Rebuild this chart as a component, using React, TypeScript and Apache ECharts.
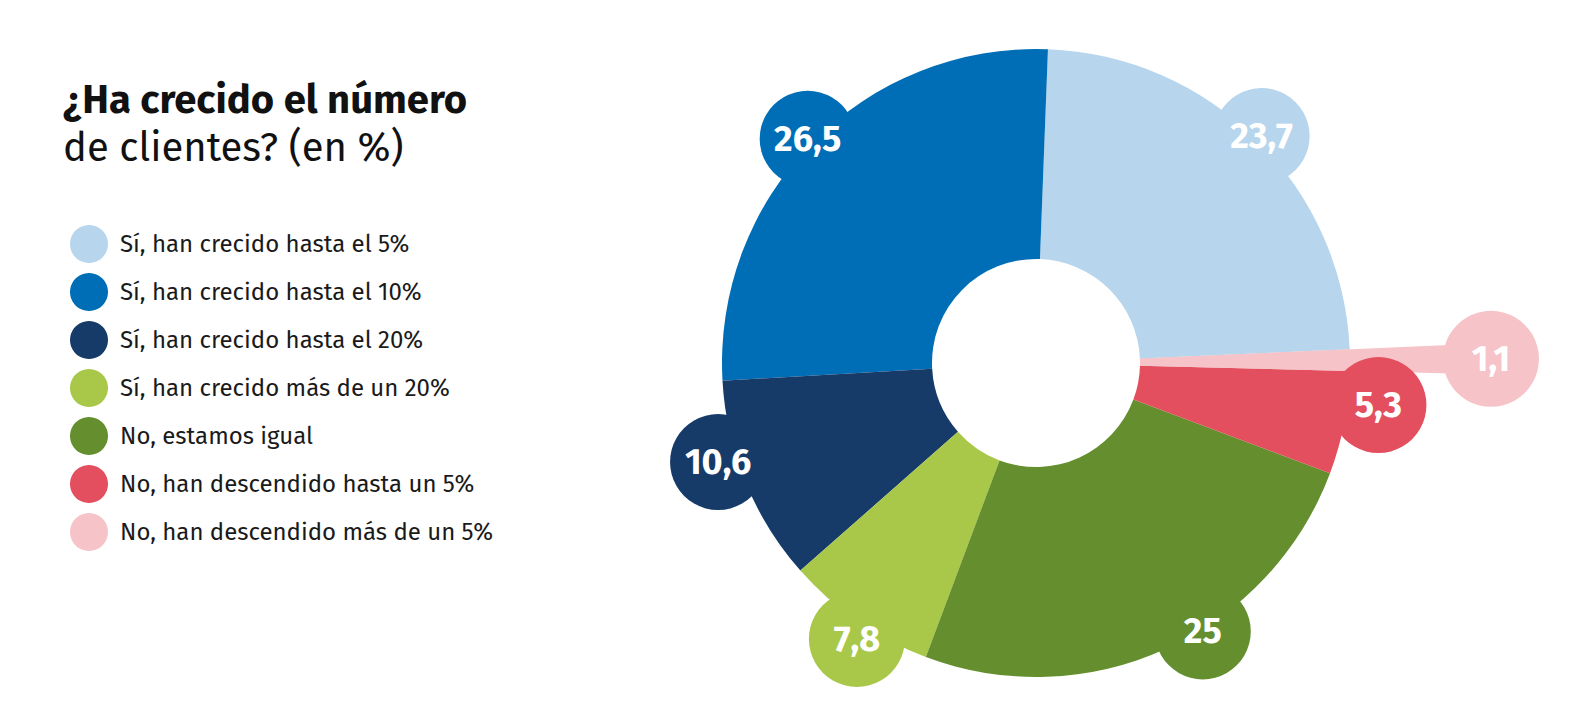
import React, { useEffect, useRef } from 'react';
import * as echarts from 'echarts';

const categories = [
  'Sí, han crecido hasta el 5%',
  'Sí, han crecido hasta el 10%',
  'Sí, han crecido hasta el 20%',
  'Sí, han crecido más de un 20%',
  'No, estamos igual',
  'No, han descendido hasta un 5%',
  'No, han descendido más de un 5%',
];
const values = [23.7, 26.5, 10.6, 7.8, 25, 5.3, 1.1];

// styles / layout (not data)
const palette = ['#b7d5ec', '#006eb6', '#163b69', '#a9c84a', '#658f2f', '#e34f5e', '#f6c4c8'];
const bubbleRadius = [320, 320, 333, 329, 316, 345, 455];
const bubbleAngleShiftDeg = [0, 0, -5, 1.6, 7.4, 4, 0];
const CENTER = [1036, 363];
const START = 2.5;
const FONT = "'Fira Sans', 'Noto Sans', sans-serif";

const fmt = (v: number) => String(v).replace('.', ',');

export default function App() {
  const ref = useRef<HTMLDivElement>(null);
  useEffect(() => {
    document.body.style.margin = '0';
    const chart = echarts.init(ref.current!, null, { renderer: 'svg' });
    const total = values.reduce((a, b) => a + b, 0);
    let acc = 0;
    const mids = values.map((v, i) => {
      const m = acc + v / 2 + (bubbleAngleShiftDeg[i] * total) / 360;
      acc += v;
      return m;
    });
    chart.setOption({
      animation: false,
      title: {
        left: 58,
        top: 71,
        text: '{b|¿Ha crecido el número}\n{r|de clientes? (en %)}',
        textStyle: {
          rich: {
            b: { fontSize: 40, fontWeight: 'bold', color: '#111', lineHeight: 48, fontFamily: FONT },
            r: { fontSize: 40, fontWeight: 'normal', color: '#111', lineHeight: 48, fontFamily: FONT },
          },
        },
      },
      legend: {
        orient: 'vertical',
        left: 65,
        top: 220,
        icon: 'circle',
        itemWidth: 38,
        itemHeight: 38,
        itemGap: 10,
        selectedMode: false,
        data: categories,
        textStyle: { fontSize: 24, color: '#1a1a1a', fontFamily: FONT, padding: [0, 0, 0, 7] },
      },
      polar: { center: CENTER, radius: 500 },
      angleAxis: { type: 'value', min: 0, max: total, startAngle: START, clockwise: false, show: false },
      radiusAxis: { type: 'value', min: 0, max: 500, show: false },
      series: [
        {
          type: 'pie',
          name: 'main',
          center: CENTER,
          radius: [104, 314],
          startAngle: START,
          clockwise: false,
          silent: true,
          z: 2,
          label: { show: false },
          labelLine: { show: false },
          data: categories.map((n, i) => ({ name: n, value: values[i], itemStyle: { color: palette[i] } })),
        },
        {
          type: 'pie',
          name: 'ext',
          center: CENTER,
          radius: [104, 425],
          startAngle: START,
          clockwise: false,
          silent: true,
          z: 1,
          label: { show: false },
          labelLine: { show: false },
          data: categories.map((n, i) => ({
            name: n,
            value: values[i],
            itemStyle: { color: i === 6 ? palette[i] : 'rgba(0,0,0,0)' },
          })),
        },
        {
          type: 'scatter',
          name: 'labels',
          coordinateSystem: 'polar',
          symbol: 'circle',
          symbolSize: 96,
          silent: true,
          z: 3,
          data: values.map((v, i) => ({
            value: [bubbleRadius[i], mids[i]],
            itemStyle: { color: palette[i], opacity: 1 },
          })),
          label: {
            show: true,
            position: 'inside',
            formatter: (p: any) => fmt(values[p.dataIndex]),
            color: '#fff',
            fontSize: 36,
            fontWeight: 'bold',
            fontFamily: FONT,
          },
        },
      ],
    });
    return () => chart.dispose();
  }, []);
  return <div ref={ref} style={{ width: 1582, height: 722 }} />;
}
